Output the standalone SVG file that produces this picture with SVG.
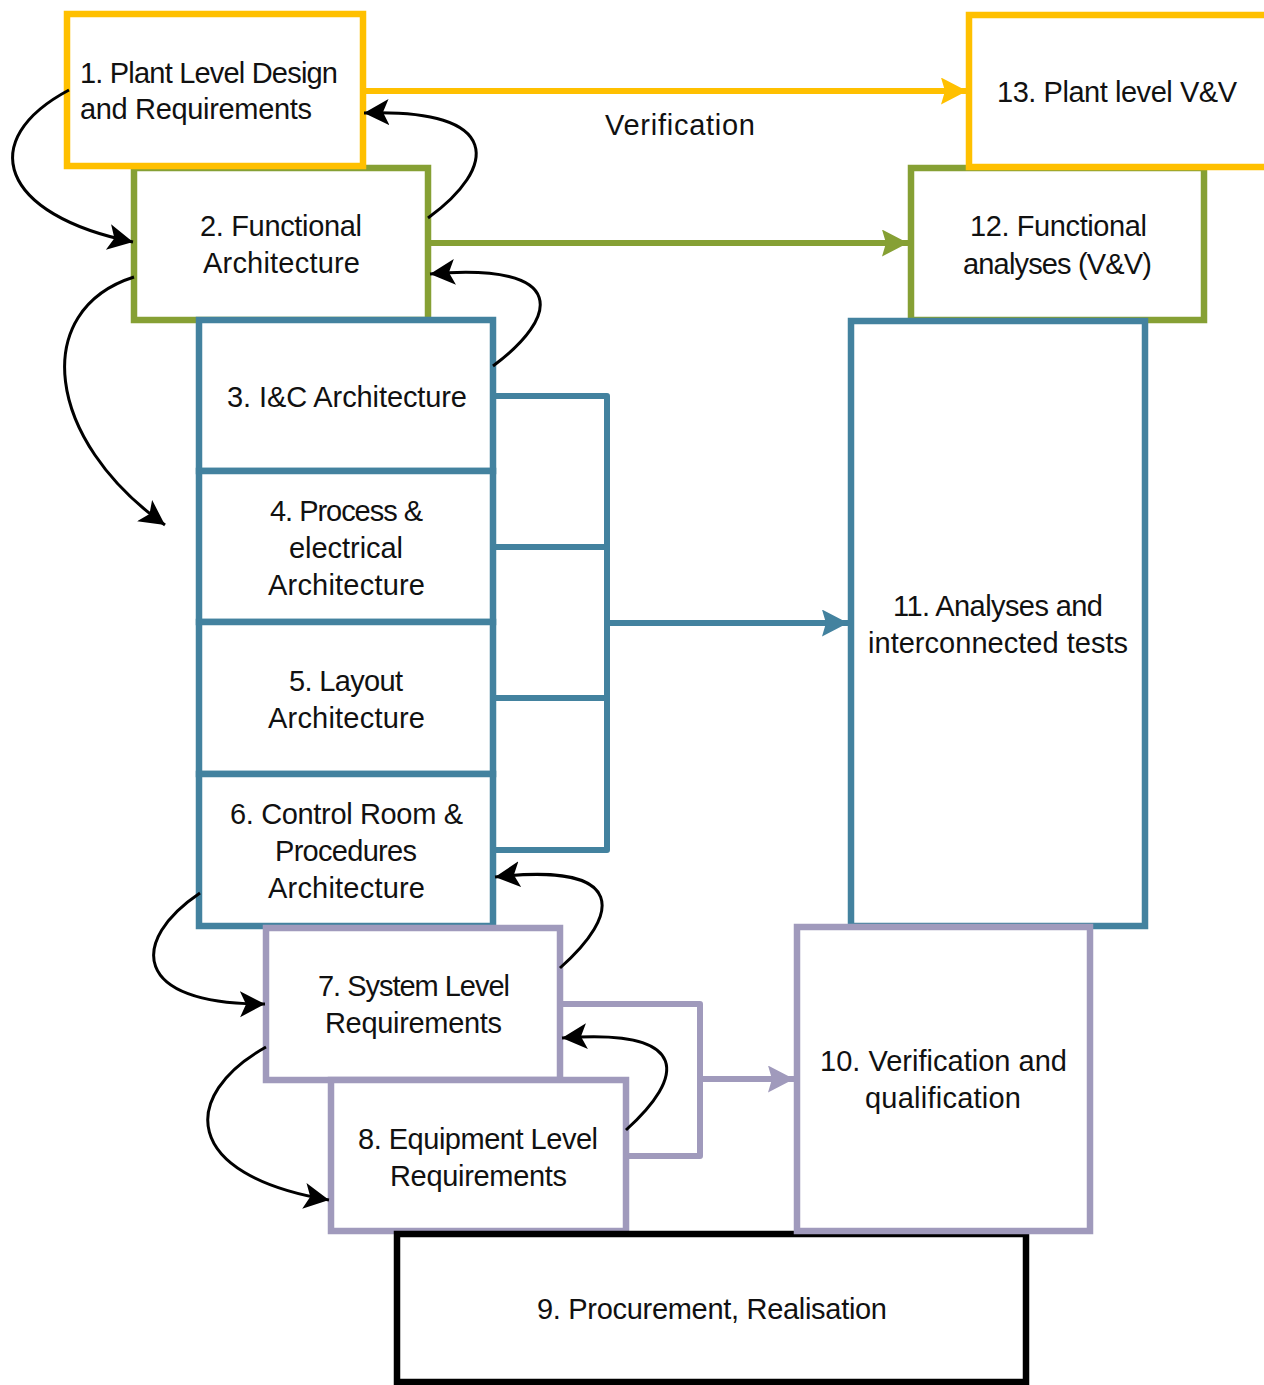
<svg xmlns="http://www.w3.org/2000/svg" width="1264" height="1385" viewBox="0 0 1264 1385">
<style>
  .box{fill:#fff;stroke-width:6.5}
  .y{stroke:#FFC000}.g{stroke:#86A034}.b{stroke:#43829F}.p{stroke:#A09ABC}.k{stroke:#000}
  text{font-family:"Liberation Sans",Arial,sans-serif;font-size:29px;fill:#111}
  .cl{fill:none;stroke-width:6}
  .cv{fill:none;stroke:#000;stroke-width:3}
</style>
<defs>
  <marker id="ak" markerUnits="userSpaceOnUse" markerWidth="30" markerHeight="30" refX="25" refY="13" orient="auto" viewBox="0 0 30 30">
    <path d="M0,0 L25,13 L0,26 L6,13 z" fill="#000"/>
  </marker>
  <marker id="ay" markerUnits="userSpaceOnUse" markerWidth="30" markerHeight="30" refX="26" refY="13.5" orient="auto" viewBox="0 0 30 30">
    <path d="M0,0 L26,13.5 L0,27 L4,13.5 z" fill="#FFC000"/>
  </marker>
  <marker id="ag" markerUnits="userSpaceOnUse" markerWidth="30" markerHeight="30" refX="26" refY="13.5" orient="auto" viewBox="0 0 30 30">
    <path d="M0,0 L26,13.5 L0,27 L4,13.5 z" fill="#86A034"/>
  </marker>
  <marker id="ab" markerUnits="userSpaceOnUse" markerWidth="30" markerHeight="30" refX="26" refY="13.5" orient="auto" viewBox="0 0 30 30">
    <path d="M0,0 L26,13.5 L0,27 L4,13.5 z" fill="#43829F"/>
  </marker>
  <marker id="ap" markerUnits="userSpaceOnUse" markerWidth="30" markerHeight="30" refX="26" refY="13.5" orient="auto" viewBox="0 0 30 30">
    <path d="M0,0 L26,13.5 L0,27 L4,13.5 z" fill="#A09ABC"/>
  </marker>
</defs>

<g id="n2"><rect class="box g" x="134" y="168" width="294" height="152"/>
  <text x="200" y="236" textLength="162">2. Functional</text>
  <text x="203" y="273" textLength="157">Architecture</text></g>
<g id="n1"><rect class="box y" x="67" y="14" width="296" height="152"/>
  <text x="80" y="83" textLength="258">1. Plant Level Design</text>
  <text x="80" y="119" textLength="232">and Requirements</text></g>
<g id="n12"><rect class="box g" x="911" y="168" width="293" height="152"/>
  <text x="970" y="236" textLength="177">12. Functional</text>
  <text x="963" y="274" textLength="189">analyses (V&amp;V)</text></g>
<g id="n13"><rect class="box y" x="969" y="15" width="300" height="152"/>
  <text x="997" y="102" textLength="240">13. Plant level V&amp;V</text></g>
<g id="n11"><rect class="box b" x="851" y="321" width="294" height="605"/>
  <text x="893" y="616" textLength="210">11. Analyses and</text>
  <text x="868" y="653" textLength="260">interconnected tests</text></g>
<g id="n3"><rect class="box b" x="199" y="320" width="294" height="151"/>
  <text x="227" y="407" textLength="240">3. I&amp;C Architecture</text></g>
<g id="n4"><rect class="box b" x="199" y="471" width="294" height="151"/>
  <text x="270" y="521" textLength="153">4. Process &amp;</text>
  <text x="289" y="558" textLength="114">electrical</text>
  <text x="268" y="595" textLength="157">Architecture</text></g>
<g id="n5"><rect class="box b" x="199" y="622" width="294" height="152"/>
  <text x="289" y="691" textLength="114">5. Layout</text>
  <text x="268" y="728" textLength="157">Architecture</text></g>
<g id="n6"><rect class="box b" x="199" y="774" width="294" height="152"/>
  <text x="230" y="824" textLength="233">6. Control Room &amp;</text>
  <text x="275" y="861" textLength="142">Procedures</text>
  <text x="268" y="898" textLength="157">Architecture</text></g>
<g id="n7"><rect class="box p" x="266" y="928" width="294" height="152"/>
  <text x="318" y="996" textLength="192">7. System Level</text>
  <text x="325" y="1033" textLength="177">Requirements</text></g>
<g id="n8"><rect class="box p" x="331" y="1080" width="295" height="151"/>
  <text x="358" y="1149" textLength="240">8. Equipment Level</text>
  <text x="390" y="1186" textLength="177">Requirements</text></g>
<g id="n9"><rect class="box k" x="397" y="1234" width="629" height="148"/>
  <text x="537" y="1319" textLength="350">9. Procurement, Realisation</text></g>
<g id="n10"><rect class="box p" x="797" y="927" width="293" height="304"/>
  <text x="820" y="1071" textLength="247">10. Verification and</text>
  <text x="865" y="1108" textLength="156">qualification</text></g>

<g id="connectors">
  <path class="cl" d="M366,91 H967" stroke="#FFC000" marker-end="url(#ay)"/>
  <text x="605" y="135" textLength="150">Verification</text>
  <path class="cl" d="M431,243 H908" stroke="#86A034" marker-end="url(#ag)"/>
  <path class="cl" d="M496,396 H607 V850 H496 M496,547 H607 M496,698 H607" stroke="#43829F" stroke-linejoin="round"/>
  <path class="cl" d="M607,623 H848" stroke="#43829F" marker-end="url(#ab)"/>
  <path class="cl" d="M563,1004 H700 V1156 H629" stroke="#A09ABC" stroke-linejoin="round"/>
  <path class="cl" d="M700,1079 H794" stroke="#A09ABC" marker-end="url(#ap)"/>

  <path class="cv" d="M69,90 C-25,140 0,215 133,242" marker-end="url(#ak)"/>
  <path class="cv" d="M428,218 C497,168 505,108 364,113" marker-end="url(#ak)"/>
  <path class="cv" d="M134,277 C30,310 45,440 165,525" marker-end="url(#ak)"/>
  <path class="cv" d="M493,366 C558,318 572,262 430,274" marker-end="url(#ak)"/>
  <path class="cv" d="M560,968 C620,915 630,862 495,877" marker-end="url(#ak)"/>
  <path class="cv" d="M200,893 C130,940 130,1005 265,1004" marker-end="url(#ak)"/>
  <path class="cv" d="M266,1047 C180,1095 180,1175 329,1200" marker-end="url(#ak)"/>
  <path class="cv" d="M626,1130 C684,1078 694,1028 562,1038" marker-end="url(#ak)"/>
</g>
</svg>
